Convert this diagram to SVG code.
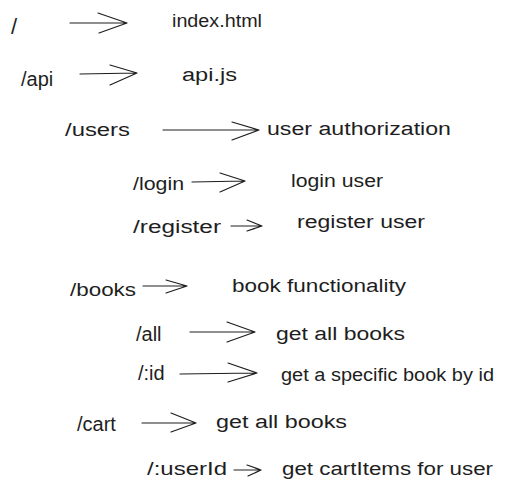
<svg xmlns="http://www.w3.org/2000/svg" width="532" height="496" viewBox="0 0 532 496">
<style>
text{font-family:"Liberation Sans",Arial,sans-serif;font-size:18px;fill:#1e1e1e}
.s{font-size:20px}
.a{fill:none;stroke:#1e1e1e;stroke-width:1.2;stroke-linecap:round;stroke-linejoin:round}
</style>
<rect width="532" height="496" fill="#ffffff"/>
<g id="root"><text x="11" y="34" style="font-size:22px">/</text></g>
<g id="index"><text x="172" y="27" textLength="90" lengthAdjust="spacingAndGlyphs">index.html</text></g>
<g id="api"><text x="21" y="86" class="s">/api</text></g>
<g id="apijs"><text x="182" y="81" textLength="55" lengthAdjust="spacingAndGlyphs">api.js</text></g>
<g id="users"><text x="65" y="136" textLength="65" lengthAdjust="spacingAndGlyphs">/users</text></g>
<g id="userauth"><text x="267" y="135" textLength="184" lengthAdjust="spacingAndGlyphs">user authorization</text></g>
<g id="login"><text x="133" y="190" textLength="51" lengthAdjust="spacingAndGlyphs">/login</text></g>
<g id="loginuser"><text x="291" y="187" textLength="92" lengthAdjust="spacingAndGlyphs">login user</text></g>
<g id="register"><text x="133" y="233" textLength="88" lengthAdjust="spacingAndGlyphs">/register</text></g>
<g id="registeruser"><text x="297" y="228" textLength="128" lengthAdjust="spacingAndGlyphs">register user</text></g>
<g id="books"><text x="70" y="296" textLength="66" lengthAdjust="spacingAndGlyphs">/books</text></g>
<g id="bookfunc"><text x="232" y="292" textLength="174" lengthAdjust="spacingAndGlyphs">book functionality</text></g>
<g id="all"><text x="136" y="341" class="s">/all</text></g>
<g id="getall"><text x="276" y="340" textLength="129" lengthAdjust="spacingAndGlyphs">get all books</text></g>
<g id="id"><text x="138" y="380" class="s">/:id</text></g>
<g id="getspecific"><text x="281" y="381" textLength="213" lengthAdjust="spacingAndGlyphs">get a specific book by id</text></g>
<g id="cart"><text x="77" y="431" class="s">/cart</text></g>
<g id="cartgetall"><text x="216" y="428" textLength="131" lengthAdjust="spacingAndGlyphs">get all books</text></g>
<g id="userid"><text x="147" y="475" textLength="80" lengthAdjust="spacingAndGlyphs">/:userId</text></g>
<g id="cartitems"><text x="282" y="475" textLength="211" lengthAdjust="spacingAndGlyphs">get cartItems for user</text></g>
<g id="connectors" class="a">
<path d="M70 23 L127 23 M98 13 L127 23 L99 33"/>
<path d="M80 74 L137 73 M110 65 L137 73 L110 85"/>
<path d="M163 130 L259 130 M232 122 L259 130 L232 140"/>
<path d="M192 182 L245 181 M220 173 L245 181 L220 192"/>
<path d="M231 226 L262 226 M247 220 L262 226 L247 231"/>
<path d="M143 286 L187 286 M166 280 L187 286 L166 293"/>
<path d="M190 332 L255 332 M227 322 L255 332 L227 342"/>
<path d="M180 374 L257 373 M228 363 L257 373 L228 382"/>
<path d="M142 423 L196 423 M171 413 L196 423 L171 432"/>
<path d="M234 470 L261 470 M247 465 L261 470 L248 476"/>
</g>
</svg>
